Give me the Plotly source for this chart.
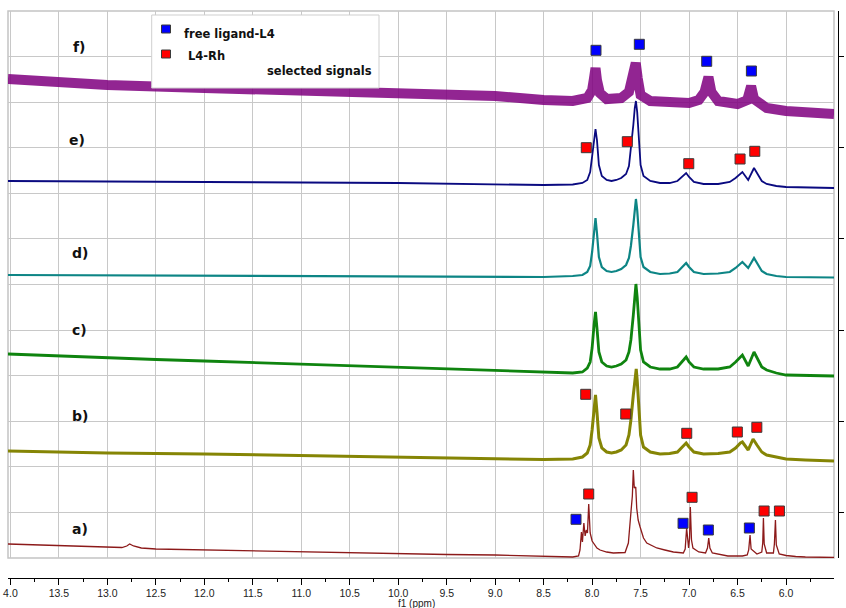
import plotly.graph_objects as go

# ---------------- axis ticks ----------------
TICK_PPM = [14.0, 13.5, 13.0, 12.5, 12.0, 11.5, 11.0, 10.5, 10.0, 9.5, 9.0, 8.5, 8.0, 7.5, 7.0, 6.5, 6.0]
TICK_LABELS = ["4.0", "13.5", "13.0", "12.5", "12.0", "11.5", "11.0", "10.5", "10.0", "9.5",
               "9.0", "8.5", "8.0", "7.5", "7.0", "6.5", "6.0"]
MINOR_PPM = [13.75, 13.25, 12.75, 12.25, 11.75, 11.25, 10.75, 10.25, 9.75, 9.25, 8.75, 8.25,
             7.75, 7.25, 6.75, 6.25, 5.75]
RIGHT_TICKS = [45.6, 136.8, 227.9, 319.1, 410.3, 501.5]
RIGHT_LABELS = ["1", "2", "3", "4", "5", "6"]
X_TITLE = "f1 (ppm)"

# ---------------- spectra (ppm, stacked intensity a.u.) ----------------
ppm_a = [14.025, 13.5, 13.0, 12.85, 12.8, 12.77, 12.73, 12.65, 12.5, 12.0, 11.5, 11.0, 10.5, 10.0, 9.5, 9.0,
         8.5, 8.3, 8.2, 8.14, 8.125, 8.11, 8.1, 8.085, 8.072, 8.06, 8.048, 8.035, 8.02, 8.0, 7.987, 7.95,
         7.918, 7.85, 7.781, 7.72, 7.66, 7.626, 7.61, 7.595, 7.585, 7.575, 7.565, 7.55, 7.54, 7.525,
         7.505, 7.47, 7.436, 7.333, 7.25, 7.162, 7.059, 7.04, 7.025, 7.015, 7.005, 6.995, 6.987, 6.975,
         6.96, 6.9, 6.83, 6.81, 6.797, 6.785, 6.76, 6.6, 6.45, 6.4, 6.385, 6.371, 6.36, 6.3, 6.25, 6.24,
         6.233, 6.225, 6.2, 6.13, 6.12, 6.109, 6.1, 6.07, 6.0, 5.9, 5.8, 5.505]
int_a = [14, 12.5, 11, 10.5, 12, 14, 12, 10, 9, 8, 7, 6, 5, 4.5, 3.5, 3,
         1.5, 1, 1, 2, 8, 26, 16, 35, 22, 28, 25, 54, 25, 17, 15, 10,
         8, 6, 5, 5, 5.5, 15, 30, 51, 62, 88, 70, 71, 50, 38,
         31, 20, 15, 10, 8, 6, 5, 9, 30, 14, 10, 20, 51, 18,
         10, 6, 5, 10, 20, 10, 5, 2, 2, 3, 8, 23, 9, 4, 6, 15,
         40, 14, 5, 5, 14, 38, 13, 4, 2.5, 1.5, 1, 0.5]

ppm_b = [14.025, 13.5, 13.0, 12.0, 11.0, 10.0, 9.0, 8.5, 8.2, 8.1, 8.05, 8.02, 8.0, 7.98, 7.965, 7.95,
         7.93, 7.9, 7.85, 7.8, 7.75, 7.7, 7.65, 7.62, 7.6, 7.575, 7.555, 7.545, 7.535, 7.52, 7.5, 7.47,
         7.4, 7.3, 7.2, 7.12, 7.07, 7.03, 7.0, 6.95, 6.85, 6.7, 6.58, 6.52, 6.47, 6.45, 6.39, 6.34,
         6.3, 6.25, 6.2, 6.1, 6.0, 5.8, 5.505]
int_b = [107, 106, 105, 104, 102.5, 101, 99.5, 98.5, 99, 101, 105, 113, 128, 150, 163, 146,
         120, 110, 106, 105, 106, 108, 113, 123, 138, 163, 183, 189, 178, 148, 123, 111,
         106, 104, 104.5, 106, 111, 115, 111, 106, 104, 104.5, 106, 110, 115, 116, 108, 119,
         113, 106, 103, 101, 99, 98, 97]

ppm_c = [14.025, 13.5, 13.0, 12.5, 12.0, 11.0, 10.0, 9.0, 8.5, 8.2, 8.1, 8.05, 8.02, 8.0, 7.98, 7.965,
         7.95, 7.93, 7.9, 7.85, 7.8, 7.75, 7.7, 7.65, 7.62, 7.6, 7.575, 7.56, 7.548, 7.535, 7.52, 7.5,
         7.47, 7.4, 7.3, 7.2, 7.12, 7.07, 7.03, 7.0, 6.95, 6.85, 6.7, 6.58, 6.52, 6.45, 6.39, 6.33,
         6.3, 6.25, 6.2, 6.1, 6.0, 5.8, 5.505]
int_c = [204, 202, 200, 198.5, 197, 194, 191, 188, 186, 185, 186, 190, 196, 210, 233, 246,
         230, 206, 196, 192, 191, 192, 194, 198, 206, 218, 243, 263, 274, 261, 233, 208,
         196, 191, 189, 189, 191, 196, 201, 196, 191, 189, 189, 191, 196, 203, 192, 206,
         200, 191, 188, 185, 183, 182.5, 182]

ppm_d = [14.025, 12.0, 10.0, 8.5, 8.2, 8.1, 8.05, 8.02, 8.0, 7.98, 7.965, 7.95, 7.93, 7.9, 7.85, 7.8,
         7.75, 7.7, 7.65, 7.62, 7.6, 7.575, 7.56, 7.548, 7.535, 7.52, 7.5, 7.47, 7.4, 7.3, 7.2, 7.12,
         7.07, 7.03, 7.0, 6.95, 6.85, 6.7, 6.58, 6.52, 6.45, 6.39, 6.33, 6.3, 6.25, 6.2, 6.1, 6.0, 5.505]
int_d = [283, 282.5, 282, 281, 282, 283, 286, 292, 306, 326, 340, 325, 301, 291, 287, 286,
         287, 289, 293, 300, 312, 333, 350, 359, 348, 323, 301, 291, 286, 284, 284.5, 286,
         291, 295, 291, 286, 284, 284.5, 286, 290, 296, 290, 300, 295, 287, 284, 282, 281, 280.5]

ppm_e = [14.025, 12.0, 10.0, 8.5, 8.2, 8.1, 8.05, 8.02, 8.0, 7.98, 7.965, 7.95, 7.93, 7.9, 7.85, 7.8,
         7.75, 7.7, 7.65, 7.62, 7.6, 7.575, 7.56, 7.548, 7.535, 7.52, 7.5, 7.47, 7.4, 7.3, 7.2, 7.12,
         7.07, 7.03, 7.0, 6.95, 6.85, 6.7, 6.58, 6.52, 6.45, 6.39, 6.33, 6.3, 6.25, 6.2, 6.1, 6.0, 5.505]
int_e = [377, 376, 375, 373, 373.5, 375, 378, 386, 403, 420, 429, 418, 393, 382, 378, 377,
         378, 380, 384, 392, 408, 433, 450, 457, 446, 418, 393, 382, 377, 375, 375, 377,
         381, 385, 381, 376, 374, 374, 376, 380, 386, 378, 390, 385, 377, 374, 372, 371, 370]

ppm_f = [14.025, 13.0, 12.0, 11.0, 10.0, 9.0, 8.5, 8.2, 8.05, 8.0, 7.98, 7.965, 7.95, 7.92, 7.85, 7.7,
         7.62, 7.58, 7.55, 7.53, 7.5, 7.4, 7.2, 7.0, 6.9, 6.84, 6.8, 6.77, 6.7, 6.5, 6.4, 6.36, 6.33,
         6.2, 6.0, 5.8, 5.505]
int_f = [479, 473, 470, 468, 465, 462, 458, 457, 460, 468, 480, 490, 478, 465, 459, 460,
         466, 478, 495, 480, 463, 457, 455, 455, 458, 466, 481, 466, 457, 454, 458, 472, 459,
         450, 447, 445, 444]

# ---------------- selected-signal markers ----------------
free_ppm = [8.166, 7.062, 6.801, 6.378, 7.960, 7.513, 6.818, 6.357]
free_int = [38.7, 34.7, 28, 30, 507.7, 513.7, 496.7, 487]
rh_ppm = [8.035, 6.969, 6.226, 6.068, 8.066, 7.653, 7.024, 6.502, 6.301,
          8.060, 7.637, 7.003, 6.474, 6.322]
rh_int = [64, 60.7, 47, 47, 163.7, 144, 124.7, 126, 130.7,
          410.3, 416.3, 394.3, 399, 406.7]

# spectrum labels
label_text = ["a)", "b)", "c)", "d)", "e)", "f)"]
label_ppm = [13.285, 13.285, 13.285, 13.285, 13.31, 13.285]
label_int = [29, 142, 228, 305, 418, 511]

LEGEND_NAMES = ["free ligand-L4", "L4-Rh"]
LEGEND_NOTE = "selected signals"

# ---------------- figure ----------------
W, H = 846, 608
ML, MR, MT, MB = 8, 8, 11, 30
PW, PH = W - ML - MR, H - MT - MB


def px(xp):
    return (xp - ML) / PW


def py(yp):
    return (H - MB - yp) / PH


fig = go.Figure()

spectra = [
    (ppm_f, int_f, "#800080", 10, 0.85),
    (ppm_e, int_e, "#0a0a80", 1.8, 1),
    (ppm_d, int_d, "#0d8585", 2.2, 1),
    (ppm_c, int_c, "#0f840f", 2.8, 1),
    (ppm_b, int_b, "#858505", 3.0, 1),
    (ppm_a, int_a, "#8c1a1a", 1.3, 1),
]
for xs, ys, col, w, op in spectra:
    fig.add_trace(go.Scatter(x=xs, y=ys, mode="lines", line=dict(color=col, width=w),
                             opacity=op, hoverinfo="skip", showlegend=False))

fig.add_trace(go.Scatter(x=free_ppm, y=free_int, mode="markers", name=LEGEND_NAMES[0],
                         marker=dict(symbol="square", size=10, color="#0000ff",
                                     line=dict(color="#3a3a3a", width=1)),
                         showlegend=False))
fig.add_trace(go.Scatter(x=rh_ppm, y=rh_int, mode="markers", name=LEGEND_NAMES[1],
                         marker=dict(symbol="square", size=10, color="#ff0000",
                                     line=dict(color="#3a3a3a", width=1)),
                         showlegend=False))

tick_font = dict(family="Liberation Sans", size=10.5, color="#222")

# spectrum labels
for t, xv, yv in zip(label_text, label_ppm, label_int):
    fig.add_annotation(x=xv, y=yv, xref="x", yref="y", text="<b>%s</b>" % t, showarrow=False,
                       font=dict(family="DejaVu Sans", size=14, color="#111"))

shapes = [
    dict(type="rect", xref="x domain", yref="y domain", x0=0, x1=1, y0=0, y1=1,
         line=dict(color="#c4c4c4", width=1.5), layer="below"),
    # legend box
    dict(type="rect", xref="paper", yref="paper", x0=px(151.7), x1=px(379), y0=py(88), y1=py(15),
         fillcolor="white", line=dict(color="#cfcfcf", width=1), layer="above"),
    dict(type="rect", xref="paper", yref="paper", x0=px(161.5), x1=px(170.5), y0=py(33), y1=py(25),
         fillcolor="#0000ff", line=dict(color="#3a3a3a", width=1), layer="above"),
    dict(type="rect", xref="paper", yref="paper", x0=px(161.5), x1=px(170.5), y0=py(58), y1=py(50),
         fillcolor="#ff0000", line=dict(color="#3a3a3a", width=1), layer="above"),
]
leg_font = dict(family="DejaVu Sans", size=11.5, color="#111")
fig.add_annotation(x=px(181.7), y=py(34), xref="paper", yref="paper", xanchor="left", yanchor="middle",
                   text="<b>%s</b>" % LEGEND_NAMES[0], showarrow=False, font=leg_font)
fig.add_annotation(x=px(185.7), y=py(56), xref="paper", yref="paper", xanchor="left", yanchor="middle",
                   text="<b>%s</b>" % LEGEND_NAMES[1], showarrow=False, font=leg_font)
fig.add_annotation(x=px(265), y=py(71), xref="paper", yref="paper", xanchor="left", yanchor="middle",
                   text="<b>%s</b>" % LEGEND_NOTE, showarrow=False, font=leg_font)
# x-axis title
fig.add_annotation(x=px(416), y=py(603.5), xref="paper", yref="paper", xanchor="center", yanchor="middle",
                   text=X_TITLE, showarrow=False,
                   font=dict(family="Liberation Sans", size=10, color="#222"))

ydom = [20 / PH, 1]
fig.update_layout(
    width=W, height=H,
    margin=dict(l=ML, r=MR, t=MT, b=MB, autoexpand=False),
    paper_bgcolor="white", plot_bgcolor="white",
    showlegend=False,
    shapes=shapes,
    xaxis=dict(domain=[0, (834 - ML) / PW], range=[14.025, 5.505], anchor="free", position=0,
               automargin=False,
               showline=True, linecolor="black", linewidth=1,
               tickmode="array", tickvals=TICK_PPM, ticktext=TICK_LABELS,
               ticks="outside", ticklen=6, tickcolor="black", tickfont=tick_font,
               ticklabelstandoff=-1,
               showgrid=True, gridcolor="#c8c8c8", gridwidth=1, zeroline=False,
               minor=dict(tickmode="array", tickvals=MINOR_PPM, ticks="outside", ticklen=3,
                          tickcolor="black", showgrid=False)),
    yaxis=dict(domain=ydom, range=[0, 547], tickmode="linear", tick0=0, dtick=547 / 12,
               automargin=False,
               showgrid=True, gridcolor="#c8c8c8", gridwidth=1, showticklabels=False,
               ticks="", zeroline=False, showline=False),
    yaxis2=dict(domain=ydom, range=[0, 547], overlaying="y", side="right", anchor="free", position=1,
                automargin=False,
                tickmode="array", tickvals=RIGHT_TICKS, ticktext=RIGHT_LABELS,
                ticks="outside", ticklen=5, tickcolor="black", tickfont=tick_font,
                showline=True, linecolor="black", linewidth=1, showgrid=False, zeroline=False),
)
fig.add_trace(go.Scatter(x=[None], y=[None], yaxis="y2", showlegend=False, hoverinfo="skip"))

fig.write_html("out.html", config={"displayModeBar": False},
               post_script="document.body.style.margin='0';document.body.style.padding='0';")
